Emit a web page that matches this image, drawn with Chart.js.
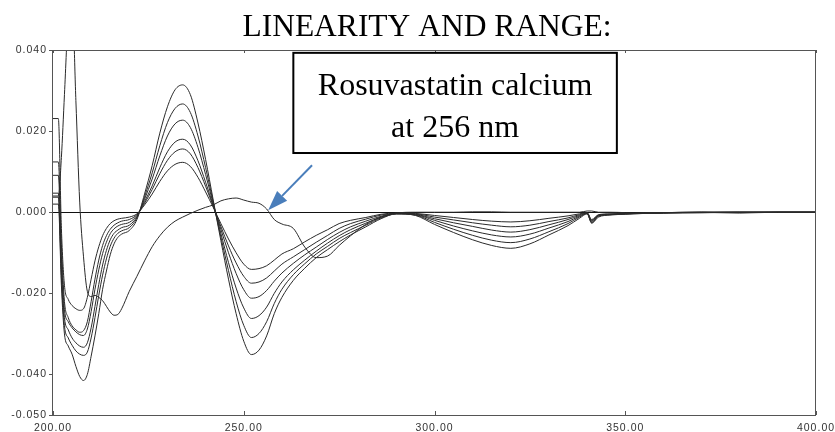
<!DOCTYPE html>
<html>
<head>
<meta charset="utf-8">
<title>Linearity and range</title>
<script src="https://cdn.jsdelivr.net/npm/chart.js@4.4.1/dist/chart.umd.min.js"></script>
<style>
  html, body { margin: 0; padding: 0; background: #fff; }
</style>
</head>
<body>
<canvas id="spectraChart" width="835" height="432"></canvas>
<script>
// wavelength grid (nm), shared by every trace
const wavelengths = [
  200, 201.4, 202.2, 203,
  204, 205, 206, 207, 208, 209, 210, 211, 212, 213, 214, 215, 216, 217, 218,
  220, 222, 224, 226, 228, 230, 232, 234, 236, 238, 240, 242, 244, 246, 248, 250, 252, 254, 256, 258, 260,
  263, 266, 269, 272, 275, 278, 282, 286, 290,
  295, 300, 305, 310, 315, 320, 325, 330, 335,
  338, 340, 341.2, 343, 346, 350, 355, 360, 370, 380, 390, 400
]

// first derivative traces, lowest to highest concentration
const level1 = [
  0.0231, 0.0231, -0.0040, -0.0180,
  -0.0215, -0.0230, -0.0238, -0.0242, -0.0238, -0.0210, -0.0165, -0.0120, -0.0085, -0.0058, -0.0040, -0.0028, -0.0021, -0.0017, -0.0015,
  -0.0012, -0.0004, 0.0018, 0.0045, 0.0076, 0.0102, 0.0118, 0.0123, 0.0113, 0.0086, 0.0050, 0.0012, -0.0028, -0.0066, -0.0100, -0.0128, -0.0141, -0.0139, -0.0132, -0.0118, -0.0103,
  -0.0090, -0.0073, -0.0057, -0.0043, -0.0028, -0.0020, -0.0013, -0.0005, -0.0002,
  -0.0003, -0.0008, -0.0013, -0.0018, -0.0022, -0.0024, -0.0021, -0.0015, -0.0009,
  -0.0004, -0.0001, -0.0018, -0.0006, -0.0004, -0.0003, -0.0002, -0.0001, 0, 0, 0, 0
]
const level2 = [
  0.0124, 0.0124, -0.0080, -0.0220,
  -0.0260, -0.0280, -0.0290, -0.0296, -0.0292, -0.0270, -0.0220, -0.0165, -0.0118, -0.0082, -0.0058, -0.0042, -0.0032, -0.0026, -0.0022,
  -0.0018, -0.0006, 0.0022, 0.0056, 0.0095, 0.0128, 0.0149, 0.0156, 0.0144, 0.0110, 0.0064, 0.0015, -0.0035, -0.0083, -0.0125, -0.0158, -0.0175, -0.0172, -0.0162, -0.0145, -0.0128,
  -0.0110, -0.0092, -0.0074, -0.0057, -0.0040, -0.0028, -0.0017, -0.0007, -0.0003,
  -0.0004, -0.0012, -0.0019, -0.0026, -0.0032, -0.0036, -0.0032, -0.0023, -0.0014,
  -0.0006, -0.0002, -0.0020, -0.0007, -0.0005, -0.0003, -0.0002, -0.0001, 0, 0, 0, 0
]
const level3 = [
  0.0091, 0.0091, -0.0110, -0.0240,
  -0.0270, -0.0285, -0.0295, -0.0302, -0.0304, -0.0288, -0.0245, -0.0190, -0.0142, -0.0102, -0.0074, -0.0053, -0.0041, -0.0034, -0.0030,
  -0.0025, -0.0008, 0.0026, 0.0065, 0.0110, 0.0149, 0.0173, 0.0180, 0.0166, 0.0127, 0.0074, 0.0017, -0.0042, -0.0100, -0.0151, -0.0191, -0.0212, -0.0208, -0.0193, -0.0170, -0.0150,
  -0.0126, -0.0105, -0.0086, -0.0067, -0.0050, -0.0036, -0.0022, -0.0010, -0.0003,
  -0.0005, -0.0016, -0.0026, -0.0035, -0.0044, -0.0049, -0.0043, -0.0031, -0.0018,
  -0.0008, -0.0002, -0.0022, -0.0008, -0.0005, -0.0004, -0.0002, -0.0001, 0, 0, 0, 0
]
const level4 = [
  0.0047, 0.0047, -0.0140, -0.0260,
  -0.0290, -0.0310, -0.0322, -0.0330, -0.0333, -0.0322, -0.0285, -0.0232, -0.0178, -0.0130, -0.0094, -0.0068, -0.0052, -0.0044, -0.0038,
  -0.0032, -0.0011, 0.0032, 0.0082, 0.0139, 0.0188, 0.0218, 0.0227, 0.0209, 0.0160, 0.0093, 0.0021, -0.0052, -0.0124, -0.0187, -0.0236, -0.0262, -0.0255, -0.0234, -0.0200, -0.0172,
  -0.0142, -0.0118, -0.0096, -0.0076, -0.0058, -0.0043, -0.0027, -0.0012, -0.0004,
  -0.0006, -0.0020, -0.0034, -0.0046, -0.0056, -0.0061, -0.0054, -0.0039, -0.0023,
  -0.0010, -0.0003, -0.0024, -0.0009, -0.0006, -0.0004, -0.0002, -0.0001, -0.0001, 0, 0, 0
]
const level5 = [
  0.0037, 0.0037, -0.0160, -0.0280,
  -0.0310, -0.0328, -0.0342, -0.0350, -0.0353, -0.0345, -0.0310, -0.0260, -0.0205, -0.0155, -0.0115, -0.0084, -0.0064, -0.0052, -0.0046,
  -0.0038, -0.0014, 0.0038, 0.0097, 0.0164, 0.0221, 0.0256, 0.0267, 0.0246, 0.0188, 0.0110, 0.0025, -0.0061, -0.0144, -0.0220, -0.0279, -0.0309, -0.0299, -0.0270, -0.0225, -0.0190,
  -0.0154, -0.0127, -0.0103, -0.0084, -0.0065, -0.0050, -0.0032, -0.0014, -0.0004,
  -0.0007, -0.0025, -0.0042, -0.0057, -0.0069, -0.0075, -0.0066, -0.0048, -0.0028,
  -0.0012, -0.0003, -0.0026, -0.0010, -0.0006, -0.0004, -0.0003, -0.0002, -0.0001, 0, 0, 0
]
const level6 = [
  0.0020, 0.0020, -0.0180, -0.0300,
  -0.0330, -0.0350, -0.0380, -0.0405, -0.0415, -0.0400, -0.0355, -0.0305, -0.0250, -0.0190, -0.0145, -0.0105, -0.0078, -0.0062, -0.0054,
  -0.0045, -0.0018, 0.0045, 0.0115, 0.0195, 0.0260, 0.0302, 0.0314, 0.0290, 0.0220, 0.0130, 0.0030, -0.0070, -0.0165, -0.0250, -0.0318, -0.0351, -0.0340, -0.0305, -0.0250, -0.0210,
  -0.0168, -0.0138, -0.0112, -0.0092, -0.0073, -0.0056, -0.0036, -0.0016, -0.0004,
  -0.0008, -0.0030, -0.0050, -0.0068, -0.0082, -0.0089, -0.0078, -0.0056, -0.0033,
  -0.0015, -0.0004, -0.0027, -0.0012, -0.0007, -0.0005, -0.0003, -0.0002, -0.0001, -0.0001, 0, 0
]
// the odd trace: crosses zero at 256 nm
const zeroCrossTrace = [
  0.0040, 0.0040, 0.0135, 0.0290,
  0.0480, 0.0520, 0.0275, 0.0025, -0.0110, -0.0195, -0.0208, -0.0205, -0.0210, -0.0218, -0.0232, -0.0246, -0.0254, -0.0252, -0.0238,
  -0.0195, -0.0158, -0.0120, -0.0085, -0.0058, -0.0037, -0.0022, -0.0012, -0.0003, 0.0005, 0.0012, 0.0018, 0.0028, 0.0033, 0.0035, 0.0030, 0.0025, 0.0022, 0.0008, -0.0018, -0.0029,
  -0.0040, -0.0086, -0.0112, -0.0108, -0.0082, -0.0058, -0.0030, -0.0012, -0.0002,
  0, 0, 0, 0.0001, 0.0001, 0, 0, 0, 0,
  0, 0.0003, 0.0003, 0, 0, -0.0001, -0.0003, -0.0002, 0, -0.0002, 0, 0
]

const xTicks = [200, 250, 300, 350, 400]
const yTicks = [-0.05, -0.04, -0.02, 0, 0.02, 0.04]

const chartTitle = 'LINEARITY AND RANGE:'
const calloutLines = ['Rosuvastatin calcium', 'at 256 nm']

const tickFont = { family: "'Liberation Sans', Arial, sans-serif", size: 10.5 }
const serif = "'Liberation Serif', 'Times New Roman', serif"
const lineColour = '#2a2a2a'

var traces = [level1, level2, level3, level4, level5, level6, zeroCrossTrace]
var datasets = []
for (let trace of traces) {
  datasets.push({
    data: trace.map(function(v, i) { return { x: wavelengths[i], y: v } }),
    borderColor: lineColour,
    borderWidth: 1,
    pointRadius: 0,
    fill: false,
    cubicInterpolationMode: 'monotone'
  })
}

// frame, inward x ticks, title, callout box and arrow
const decorations = {
  id: 'decorations',
  beforeDraw(chart) {
    chart.ctx.letterSpacing = '1px'
  },
  afterDatasetsDraw(chart) {
    const ctx = chart.ctx
    const a = chart.chartArea
    const x = chart.scales.x
    const y = chart.scales.y
    ctx.save()
    ctx.letterSpacing = '0px'

    ctx.strokeStyle = '#555'
    ctx.lineWidth = 1
    ctx.strokeRect(a.left - 0.5, a.top + 0.5, a.right - a.left, a.bottom - a.top)

    ctx.beginPath()
    for (let v of xTicks) {
      let px = Math.round(x.getPixelForValue(v)) + 0.5
      ctx.moveTo(px, a.bottom)
      ctx.lineTo(px, a.bottom - 4)
      ctx.moveTo(px, a.top)
      ctx.lineTo(px, a.top + 3)
    }
    ctx.stroke()

    // callout box
    let bx0 = x.getPixelForValue(263)
    let bx1 = x.getPixelForValue(347.8)
    let by0 = y.getPixelForValue(0.0393)
    let by1 = y.getPixelForValue(0.0146)
    ctx.fillStyle = '#fff'
    ctx.fillRect(bx0, by0, bx1 - bx0, by1 - by0)
    ctx.strokeStyle = '#000'
    ctx.lineWidth = 2
    ctx.strokeRect(bx0, by0, bx1 - bx0, by1 - by0)
    ctx.fillStyle = '#000'
    ctx.font = '32px ' + serif
    ctx.textAlign = 'center'
    ctx.textBaseline = 'alphabetic'
    ctx.fillText(calloutLines[0], (bx0 + bx1) / 2, by0 + 42)
    ctx.fillText(calloutLines[1], (bx0 + bx1) / 2, by0 + 84)

    // arrow pointing at the 256 nm crossing
    let sx = x.getPixelForValue(267.9), sy = y.getPixelForValue(0.0116)
    let tx = x.getPixelForValue(256.4), ty = y.getPixelForValue(0.0005)
    let len = Math.hypot(tx - sx, ty - sy)
    let ux = (tx - sx) / len, uy = (ty - sy) / len
    let head = 20, half = 7
    let hx = tx - ux * head, hy = ty - uy * head
    ctx.strokeStyle = '#4a7ebb'
    ctx.fillStyle = '#4a7ebb'
    ctx.lineWidth = 2
    ctx.beginPath()
    ctx.moveTo(sx, sy)
    ctx.lineTo(hx, hy)
    ctx.stroke()
    ctx.beginPath()
    ctx.moveTo(tx, ty)
    ctx.lineTo(hx - uy * half, hy + ux * half)
    ctx.lineTo(hx + uy * half, hy - ux * half)
    ctx.closePath()
    ctx.fill()

    ctx.restore()
  },
  afterDraw(chart) {
    const ctx = chart.ctx
    ctx.save()
    ctx.letterSpacing = '0px'
    ctx.fillStyle = '#000'
    ctx.font = '31.5px ' + serif
    ctx.textAlign = 'center'
    ctx.textBaseline = 'alphabetic'
    ctx.fillText(chartTitle, 427, 36)
    ctx.restore()
  }
}

var ctx = document.getElementById('spectraChart').getContext('2d')
var spectraChart = new Chart(ctx, {
  type: 'line',
  data: { datasets: datasets },
  plugins: [decorations],
  options: {
    responsive: false,
    animation: false,
    layout: {
      padding: { top: 50, right: 19, bottom: 0, left: 0 }
    },
    plugins: {
      legend: { display: false },
      tooltip: { enabled: false }
    },
    scales: {
      x: {
        type: 'linear',
        min: 200,
        max: 400,
        afterBuildTicks: function(scale) {
          scale.ticks = xTicks.map(function(v) { return { value: v } })
        },
        afterFit: function(scale) {
          scale.height = 17
          scale.paddingLeft = 0
          scale.paddingRight = 0
        },
        ticks: {
          color: '#333',
          font: tickFont,
          padding: 7,
          maxRotation: 0,
          autoSkip: false,
          callback: function(value) { return value.toFixed(2) }
        },
        grid: { display: false, drawTicks: false },
        border: { display: false }
      },
      y: {
        type: 'linear',
        min: -0.05,
        max: 0.04,
        afterBuildTicks: function(scale) {
          scale.ticks = yTicks.map(function(v) { return { value: v } })
        },
        afterFit: function(scale) {
          scale.width = 53
        },
        ticks: {
          color: '#333',
          font: tickFont,
          padding: 2,
          callback: function(value) { return value.toFixed(3) }
        },
        grid: {
          // only the zero line is drawn across the plot
          color: function(context) {
            return (context.tick && context.tick.value === 0) ? '#111' : 'rgba(0, 0, 0, 0)'
          },
          tickColor: '#555',
          tickLength: 4,
          lineWidth: 1
        },
        border: { display: false }
      }
    }
  }
})
</script>
</body>
</html>
